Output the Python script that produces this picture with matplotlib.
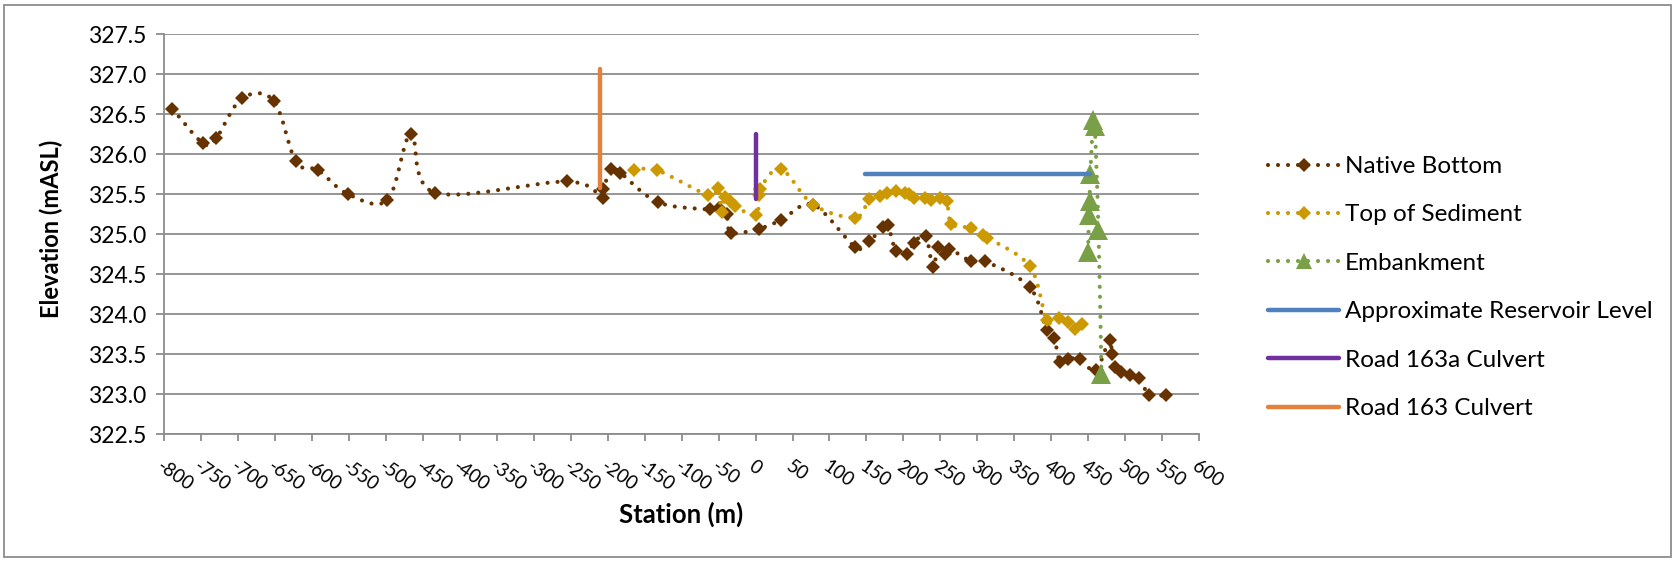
import numpy as np
import matplotlib
matplotlib.use("Agg")
import matplotlib.pyplot as plt
from matplotlib.path import Path
from matplotlib.patches import PathPatch, Rectangle
from matplotlib.lines import Line2D

plt.rcParams['font.family'] = ['Lato', 'DejaVu Sans']
plt.rcParams['axes.unicode_minus'] = False

# ---------------- data ----------------
nb_station = [-789, -748, -730, -695, -652, -622, -592, -551, -498, -466, -434,
              -255, -207, -206, -195, -183, -132, -62, -50, -39, -33, 5, 35, 78,
              135, 154, 173, 179, 190, 205, 214, 230, 240, 247, 256, 262, 292, 311,
              371, 394, 404, 412, 423, 439, 460, 479, 482, 486, 495, 506, 519, 533, 555]
nb_elev = [326.57, 326.14, 326.20, 326.70, 326.67, 325.91, 325.80, 325.50, 325.43, 326.26, 325.52,
           325.66, 325.46, 325.56, 325.82, 325.77, 325.40, 325.31, 325.33, 325.26, 325.02, 325.07, 325.18, 325.37,
           324.84, 324.92, 325.09, 325.12, 324.79, 324.75, 324.89, 324.98, 324.59, 324.84, 324.76, 324.82, 324.66, 324.66,
           324.34, 323.80, 323.70, 323.40, 323.44, 323.44, 323.30, 323.68, 323.51, 323.34, 323.28, 323.24, 323.20, 322.99, 322.99]

ts_station = [-165, -133, -64, -51, -46, -42, -35, -28, 0, 5, 6, 34, 78,
              135, 154, 169, 178, 190, 202, 207, 214, 229, 238, 250, 259, 265,
              292, 308, 313, 371, 394, 410, 423, 432, 442]
ts_elev = [325.80, 325.80, 325.49, 325.575, 325.28, 325.47, 325.41, 325.35, 325.24, 325.49, 325.57, 325.82, 325.37,
           325.21, 325.44, 325.48, 325.52, 325.54, 325.52, 325.50, 325.45, 325.45, 325.43, 325.45, 325.42, 325.13,
           325.08, 324.99, 324.96, 324.60, 323.93, 323.95, 323.90, 323.82, 323.875]

emb_station = [450, 451, 452, 453, 457, 459, 464, 468]
emb_elev = [324.78, 325.24, 325.42, 325.76, 326.43, 326.35, 325.05, 323.26]

res_station = [148, 453]
res_elev = [325.75, 325.75]

c163a_station = [0, 0]
c163a_elev = [326.26, 325.44]

c163_station = [-211, -211]
c163_elev = [327.06, 325.58]

x_ticks = list(range(-800, 601, 50))
x_tick_labels = [str(v) for v in x_ticks]
y_ticks = [322.5, 323.0, 323.5, 324.0, 324.5, 325.0, 325.5, 326.0, 326.5, 327.0, 327.5]
y_tick_labels = ["%.1f" % v for v in y_ticks]

# ---------------- style ----------------
C_NB = '#663300'
C_TS = '#CC9900'
C_EMB = '#79A046'
C_RES = '#4F81BD'
C_PUR = '#7030A0'
C_ORA = '#E2823D'
GRID = '#8C8C8C'

W, H = 1679, 561
fig = plt.figure(figsize=(W / 100, H / 100), dpi=100)
ax = fig.add_axes([164.3 / W, 1 - 434.3 / H, (1199 - 164.3) / W, 400 / H])

DOT = (0, (0.001, 2.4))
LW = 3.0


def smooth_path(xs, ys):
    pts = np.column_stack([xs, ys]).astype(float)
    n = len(pts)
    verts = [pts[0]]
    codes = [Path.MOVETO]
    for i in range(n - 1):
        p0 = pts[i - 1] if i > 0 else pts[i]
        p1 = pts[i]
        p2 = pts[i + 1]
        p3 = pts[i + 2] if i + 2 < n else pts[i + 1]
        verts += [p1 + (p2 - p0) / 6.0, p2 - (p3 - p1) / 6.0, p2]
        codes += [Path.CURVE4] * 3
    return Path(verts, codes)


z = 3
for xs, ys, col, mk, ms in [(nb_station, nb_elev, C_NB, 'D', 7.5),
                            (ts_station, ts_elev, C_TS, 'D', 7.5),
                            (emb_station, emb_elev, C_EMB, '^', 14.0)]:
    patch = PathPatch(smooth_path(xs, ys), fill=False, edgecolor=col, lw=LW,
                      linestyle=DOT, capstyle='round', zorder=z)
    ax.add_patch(patch)
    ax.plot(xs, ys, linestyle='none', marker=mk, markersize=ms, color=col,
            markeredgewidth=0, zorder=z + 0.5)
    z += 1

for xs, ys, col in [(res_station, res_elev, C_RES),
                    (c163a_station, c163a_elev, C_PUR),
                    (c163_station, c163_elev, C_ORA)]:
    ax.plot(xs, ys, color=col, lw=3.2, solid_capstyle='round', zorder=z)
    z += 1

ax.set_xlim(-800, 600)
ax.set_ylim(322.5, 327.5)
ax.set_xticks(x_ticks)
ax.set_xticklabels(x_tick_labels, rotation=-35, ha='left', va='top',
                   rotation_mode='anchor', fontsize=13.5)
ax.set_yticks(y_ticks)
ax.set_yticklabels(y_tick_labels, fontsize=16.5)
ax.grid(axis='y', color=GRID, lw=1.3)
ax.set_axisbelow(True)
for s in ['top', 'right']:
    ax.spines[s].set_visible(False)
for s in ['left', 'bottom']:
    ax.spines[s].set_color(GRID)
    ax.spines[s].set_linewidth(1.3)
ax.tick_params(axis='x', direction='out', length=5, width=1.3, color=GRID, pad=12)
ax.tick_params(axis='y', direction='out', length=6, width=1.3, color=GRID, pad=7)

fig.text(51 / W, 1 - 229 / H, 'Elevation (mASL)', rotation=90, ha='center', va='center',
         fontsize=17, fontweight='bold')
fig.text(681.5 / W, 1 - 514 / H, 'Station (m)', ha='center', va='center',
         fontsize=18.5, fontweight='bold')

handles = [
    Line2D([], [], color=C_NB, lw=LW, linestyle=DOT, dash_capstyle='round', marker='D', markersize=7.5, markeredgewidth=0),
    Line2D([], [], color=C_TS, lw=LW, linestyle=DOT, dash_capstyle='round', marker='D', markersize=7.5, markeredgewidth=0),
    Line2D([], [], color=C_EMB, lw=LW, linestyle=DOT, dash_capstyle='round', marker='^', markersize=12, markeredgewidth=0),
    Line2D([], [], color=C_RES, lw=3.2, solid_capstyle='round'),
    Line2D([], [], color=C_PUR, lw=3.2, solid_capstyle='round'),
    Line2D([], [], color=C_ORA, lw=3.2, solid_capstyle='round'),
]
labels = ['Native Bottom', 'Top of Sediment', 'Embankment', 'Approximate Reservoir Level',
          'Road 163a Culvert', 'Road 163 Culvert']
fs_leg = 17.5
fig.legend(handles, labels, loc='upper left', bbox_to_anchor=(1268 / W, 1 - 156 / H),
           frameon=False, fontsize=fs_leg, handlelength=71 / (fs_leg * 100 / 72),
           handletextpad=0.25, labelspacing=1.13, borderpad=0, borderaxespad=0, numpoints=1)

fig.patches.append(Rectangle((4 / W, 4 / H), (1671 - 4) / W, (557 - 5) / H,
                             transform=fig.transFigure, fill=False, edgecolor='#8C8C8C', lw=1.3))

fig.savefig('out.png', dpi=100, facecolor='white')
